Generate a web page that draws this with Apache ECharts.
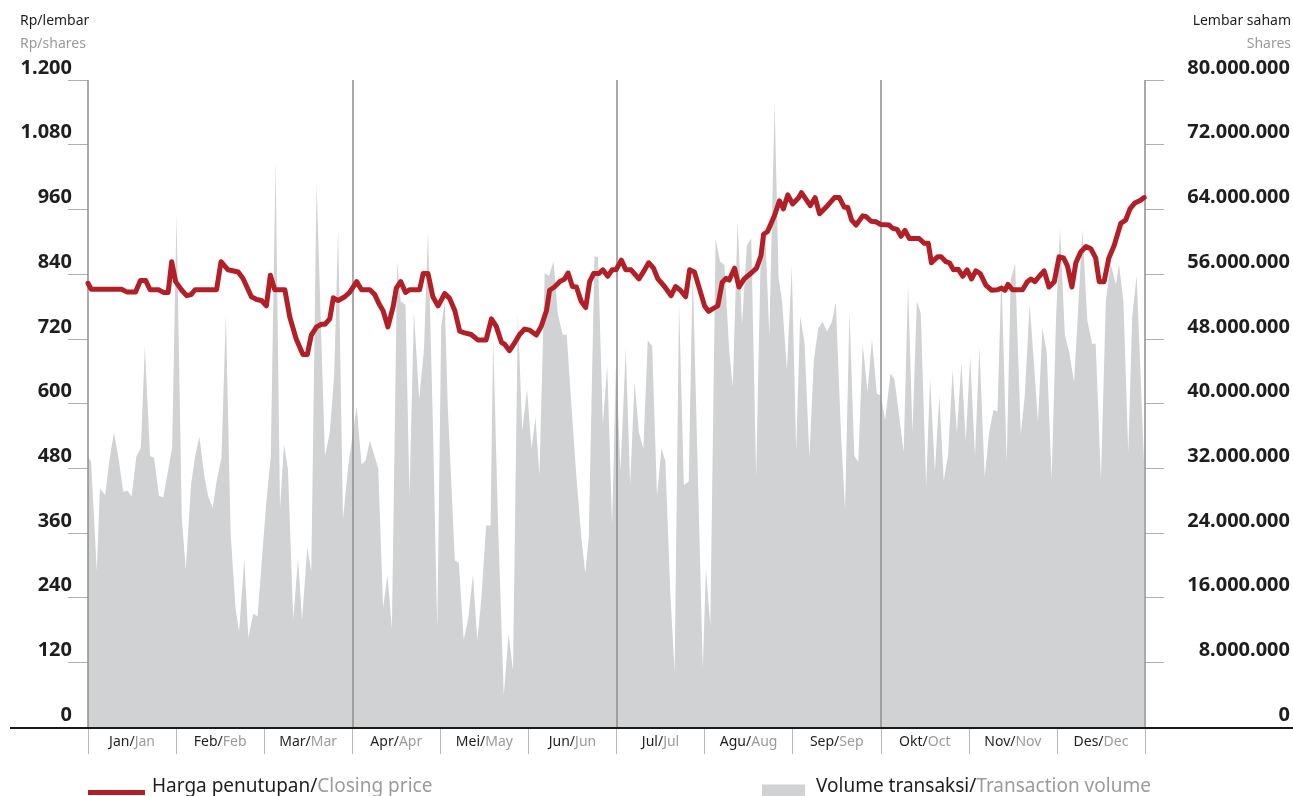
<!DOCTYPE html>
<html>
<head>
<meta charset="utf-8">
<title>Harga penutupan dan volume transaksi</title>
<script src="https://cdn.jsdelivr.net/npm/echarts@6/dist/echarts.min.js"></script>
<style>
  html, body { margin: 0; padding: 0; background: #fff; }
  #chart { width: 1293px; height: 796px; }
</style>
</head>
<body>
<div id="chart"></div>
<script>
// bulan (label sumbu x), satu bulan = 20 hari bursa
var months = [
  ["Jan", "Jan"], ["Feb", "Feb"], ["Mar", "Mar"], ["Apr", "Apr"],
  ["Mei", "May"], ["Jun", "Jun"], ["Jul", "Jul"], ["Agu", "Aug"],
  ["Sep", "Sep"], ["Okt", "Oct"], ["Nov", "Nov"], ["Des", "Dec"]
];

// harga penutupan (Rp/lembar)
var priceDay = [0, 0.7, 7.6, 8.8, 10.8, 11.9, 13.1, 14.1, 16.0, 17.1, 18.2, 19.0, 19.9, 21.3, 22.4, 23.4, 24.3, 29.2, 30.2, 31.8,
  34.1, 35.2, 37.1, 38.3, 39.4, 40.5, 41.4, 42.4, 44.7, 45.8, 47.3, 48.8, 49.8, 50.7, 51.9, 53.0, 53.8, 54.9, 55.7, 56.8,
  58.3, 59.4, 61.0, 62.1, 64.0, 65.1, 66.2, 67.0, 68.1, 69.3, 70.0, 71.0, 72.1, 73.0, 75.3, 76.1, 77.2, 78.3, 79.5, 81.0,
  82.1, 83.3, 84.4, 85.5, 87.0, 88.5, 90.4, 91.6, 92.7, 93.9, 94.6, 95.7, 96.9, 98.0, 99.1, 100.3, 101.8, 102.9, 104.1, 104.8,
  105.9, 107.1, 108.2, 109.0, 110.0, 110.9, 112.0, 113.0, 113.9, 114.8, 116.0, 116.9, 118.0, 119.0, 119.9, 121.1, 122.1, 123.3, 125.1, 126.1,
  127.3, 128.4, 129.4, 130.9, 132.4, 133.4, 134.5, 135.7, 136.6, 137.7, 138.8, 140.0, 140.9, 141.9, 143.0, 144.0, 144.9, 145.6, 146.8, 147.8,
  149.0, 150.6, 151.8, 152.8, 153.4, 154.3, 155.9, 157.0, 157.9, 158.9, 160.0, 161.4, 162.0, 164.0, 165.1, 166.1, 167.9, 169.5, 170.6, 171.7,
  172.5, 173.4, 174.4, 175.9, 176.6, 177.8, 178.9, 180.0, 181.9, 182.7, 183.7, 184.6, 185.5, 186.5, 188.7, 189.9, 190.8, 191.5, 192.9, 193.7,
  194.8, 195.6, 196.5, 197.6, 198.6, 199.6, 200.6, 201.6, 202.6, 203.9, 205.2, 206.5, 207.4, 208.2, 208.9, 209.9, 212.2, 213.3, 214.1, 215.0,
  216.0, 217.1, 218.2, 219.4, 220.5, 221.5, 222.4, 223.4, 224.3, 225.4, 226.6, 227.7, 228.8, 229.6, 230.7, 231.8, 233.0, 234.5, 235.6, 236.6,
  237.7, 239.0, 239.8];
var priceVal = [823, 812, 812, 807, 807, 828, 828, 811, 811, 806, 806, 863, 826, 810, 800, 802, 811, 811, 863, 848,
  844, 832, 798, 793, 791, 781, 838, 811, 811, 761, 719, 691, 691, 727, 742, 747, 747, 757, 796, 791,
  798, 806, 826, 811, 811, 802, 783, 772, 742, 780, 814, 826, 806, 811, 811, 841, 841, 798, 781, 804,
  795, 772, 734, 731, 728, 718, 718, 757, 743, 713, 710, 698, 713, 728, 738, 736, 727, 743, 772, 810,
  816, 826, 831, 842, 817, 816, 789, 778, 826, 841, 841, 848, 836, 848, 848, 866, 848, 848, 831, 844,
  861, 851, 831, 817, 800, 817, 810, 798, 848, 844, 814, 781, 771, 776, 781, 825, 832, 829, 851, 816,
  831, 842, 851, 874, 914, 919, 949, 976, 961, 987, 970, 982, 991, 967, 982, 952, 967, 982, 982, 964,
  964, 940, 931, 948, 947, 938, 937, 932, 931, 925, 923, 910, 921, 906, 906, 897, 897, 861, 872, 872,
  863, 861, 848, 849, 836, 848, 831, 846, 841, 819, 810, 811, 814, 810, 821, 811, 811, 826, 831, 826,
  836, 846, 816, 826, 872, 870, 855, 816, 861, 881, 891, 887, 870, 826, 826, 870, 893, 934, 940, 961,
  972, 977, 982];

// volume transaksi (juta lembar)
var volDay = [0, 0.7, 2.0, 2.7, 3.9, 4.8, 5.9, 6.9, 8.0, 9.0, 9.9, 11.0, 12.0, 12.9, 14.1, 15.0, 16.1, 17.1, 19.1, 20.1,
  21.3, 22.2, 23.4, 24.3, 25.3, 26.4, 27.3, 28.3, 29.2, 30.3, 31.3, 32.4, 33.5, 34.3, 35.5, 36.4, 37.5, 38.5, 40.5, 41.5,
  42.6, 43.6, 44.5, 45.4, 46.6, 47.7, 48.6, 49.8, 50.7, 51.9, 53.8, 54.9, 55.9, 56.8, 57.9, 59.1, 60.2, 61.0, 62.1, 63.0,
  64.0, 65.9, 67.0, 68.0, 69.0, 70.2, 71.0, 72.1, 73.0, 74.0, 75.2, 76.3, 77.2, 78.2, 79.3, 80.2, 81.0, 81.7, 83.3, 84.2,
  85.3, 86.3, 87.4, 88.4, 89.3, 90.4, 91.4, 92.0, 93.1, 94.4, 95.5, 96.5, 97.6, 98.6, 99.7, 100.7, 101.6, 102.5, 103.7, 104.7,
  105.7, 106.7, 107.8, 108.7, 109.7, 110.9, 112.0, 112.9, 113.7, 115.0, 115.8, 116.9, 117.9, 119.0, 119.9, 120.9, 122.1, 123.1, 124.1, 125.1,
  126.1, 127.1, 128.1, 129.2, 130.2, 131.1, 132.2, 133.2, 134.2, 135.3, 136.4, 137.3, 138.5, 139.6, 140.3, 141.3, 142.5, 143.5, 144.5, 145.6,
  146.4, 147.5, 148.5, 149.6, 150.6, 151.7, 152.8, 153.8, 154.7, 155.9, 156.8, 157.6, 158.7, 159.8, 160.8, 161.7, 162.7, 163.8, 164.8, 165.8,
  166.8, 167.8, 168.9, 169.8, 171.0, 171.9, 172.9, 174.0, 174.9, 175.9, 177.0, 178.0, 179.1, 180.0, 181.0, 182.2, 183.1, 184.2, 185.2, 186.2,
  187.2, 188.2, 189.1, 190.3, 191.2, 192.3, 193.3, 194.3, 195.3, 196.3, 197.3, 198.3, 199.3, 200.3, 201.4, 202.4, 203.6, 204.6, 205.6, 206.5,
  207.4, 208.6, 209.5, 210.5, 211.8, 212.7, 213.8, 214.8, 215.7, 216.7, 217.7, 218.8, 219.8, 220.7, 221.8, 222.8, 223.9, 224.7, 225.8, 226.9,
  228.0, 228.8, 230.0, 231.1, 232.2, 233.4, 234.1, 235.1, 236.2, 237.1, 238.1, 239.0, 239.8];
var volVal = [33.4, 32.8, 19.3, 29.5, 28.7, 32.8, 36.4, 33.4, 29.1, 29.2, 28.5, 33.5, 34.5, 47.0, 33.5, 33.3, 28.6, 28.4, 34.5, 63.4,
  25.9, 19.4, 30.0, 33.4, 35.9, 31.1, 28.5, 27.1, 30.4, 33.3, 51.0, 23.8, 14.7, 11.8, 20.8, 11.0, 14.0, 13.7, 27.9, 33.4,
  69.9, 27.0, 35.0, 31.9, 13.3, 20.8, 13.2, 22.2, 19.2, 67.2, 33.5, 36.4, 43.5, 61.6, 25.7, 32.4, 36.4, 39.7, 32.5, 32.9,
  35.4, 32.0, 14.7, 18.8, 12.1, 57.6, 52.6, 52.2, 28.6, 51.3, 40.5, 46.8, 61.4, 40.0, 12.2, 49.5, 52.6, 39.5, 20.6, 20.3,
  10.8, 13.3, 18.8, 10.7, 15.8, 24.9, 24.9, 48.0, 25.3, 3.9, 11.5, 7.0, 51.0, 36.7, 41.7, 34.4, 38.3, 31.1, 56.1, 55.8,
  57.6, 51.0, 48.5, 48.5, 40.2, 30.9, 23.6, 19.0, 23.4, 58.2, 58.1, 37.4, 44.7, 24.9, 45.3, 31.6, 46.8, 29.9, 42.7, 36.4,
  34.4, 47.8, 47.1, 28.6, 34.4, 32.9, 16.8, 6.7, 52.5, 29.9, 30.4, 56.6, 30.6, 7.2, 19.6, 12.5, 60.4, 57.6, 57.1, 46.5,
  42.0, 62.6, 49.8, 59.6, 60.4, 30.9, 59.9, 60.9, 48.3, 77.2, 55.6, 52.6, 44.1, 57.0, 34.2, 50.8, 47.5, 33.4, 45.3, 49.3,
  50.1, 48.9, 50.1, 52.5, 35.9, 26.9, 51.3, 33.5, 32.8, 47.3, 41.4, 48.0, 41.2, 41.0, 38.0, 43.7, 43.0, 38.4, 34.0, 54.7,
  36.4, 52.7, 51.1, 29.8, 43.1, 31.6, 41.0, 30.5, 33.7, 44.1, 36.4, 45.1, 35.4, 45.8, 33.5, 47.0, 30.9, 36.4, 39.2, 39.0,
  55.8, 32.7, 55.3, 57.3, 36.2, 41.0, 52.3, 44.9, 37.7, 49.3, 46.3, 30.6, 50.5, 61.7, 48.5, 46.3, 42.6, 50.5, 61.5, 50.3,
  47.4, 47.4, 30.6, 52.6, 57.3, 54.7, 57.2, 52.6, 33.9, 50.8, 55.8, 43.5, 32.4];

// batas kuartal
var quarterDays = [0, 60, 120, 180, 240];

var FONT = "Noto Sans";
var DARK = "#1e1e1e";
var GREY = "#9b9b9b";

function dotted(v) {
  return String(Math.round(v)).replace(/\B(?=(\d{3})+(?!\d))/g, ".");
}

var chart = echarts.init(document.getElementById("chart"));

var option = {
  animation: false,
  textStyle: { fontFamily: FONT },
  grid: { left: 88, right: 147, top: 80, bottom: 69 },
  legend: [
    {
      left: 88,
      top: 777,
      padding: 0,
      icon: "rect",
      itemWidth: 57,
      itemHeight: 5,
      data: ["Harga penutupan"],
      formatter: "{a|Harga penutupan/}{b|Closing price}",
      textStyle: {
        padding: [0, 0, 12, 2],
        rich: {
          a: { fontFamily: FONT, fontSize: 19, color: DARK },
          b: { fontFamily: FONT, fontSize: 19, color: GREY }
        }
      }
    },
    {
      left: 762,
      top: 777,
      padding: 0,
      icon: "rect",
      itemWidth: 43,
      itemHeight: 12,
      data: ["Volume transaksi"],
      formatter: "{a|Volume transaksi/}{b|Transaction volume}",
      textStyle: {
        padding: [0, 0, 8, 6],
        rich: {
          a: { fontFamily: FONT, fontSize: 19, color: DARK },
          b: { fontFamily: FONT, fontSize: 19, color: GREY }
        }
      }
    }
  ],
  xAxis: [
    {
      type: "value",
      min: 0,
      max: 240,
      interval: 60,
      axisLine: { show: false },
      axisTick: { show: false },
      axisLabel: { show: false },
      splitLine: { show: false }
    },
    {
      type: "category",
      position: "bottom",
      data: months.map(function (m) { return m[0]; }),
      boundaryGap: true,
      axisLine: { show: false },
      axisTick: { show: true, interval: 0, length: 27, lineStyle: { color: "#b8b8b8", width: 1 } },
      axisLabel: {
        interval: 0,
        margin: 8,
        formatter: function (v, i) {
          return "{a|" + months[i][0] + "/}{b|" + months[i][1] + "}";
        },
        rich: {
          a: { fontFamily: FONT, fontSize: 14, color: DARK },
          b: { fontFamily: FONT, fontSize: 14, color: GREY }
        }
      }
    }
  ],
  yAxis: [
    {
      type: "value",
      min: 0,
      max: 1200,
      interval: 120,
      axisLine: { show: false },
      axisTick: { show: true, length: 20, lineStyle: { color: "#b0b0b0" } },
      splitLine: { show: false },
      axisLabel: {
        margin: 16,
        verticalAlign: "bottom",
        lineHeight: 24,
        fontFamily: FONT,
        fontSize: 20,
        fontWeight: "bold",
        color: DARK,
        formatter: dotted
      }
    },
    {
      type: "value",
      min: 0,
      max: 80,
      interval: 8,
      position: "right",
      axisLine: { show: false },
      axisTick: { show: true, length: 19, lineStyle: { color: "#b0b0b0" } },
      splitLine: { show: false },
      axisLabel: {
        margin: 145,
        align: "right",
        verticalAlign: "bottom",
        lineHeight: 24,
        fontFamily: FONT,
        fontSize: 20,
        fontWeight: "bold",
        color: DARK,
        formatter: function (v) { return dotted(v * 1000000); }
      }
    }
  ],
  series: [
    {
      name: "Volume transaksi",
      type: "line",
      xAxisIndex: 0,
      yAxisIndex: 1,
      symbol: "none",
      color: "#d1d2d4",
      lineStyle: { width: 0 },
      areaStyle: { color: "#d1d2d4", opacity: 1 },
      data: volDay.map(function (d, i) { return [d, volVal[i]]; }),
      markLine: {
        silent: true,
        symbol: "none",
        label: { show: false },
        lineStyle: { color: "#8e8e8e", width: 1.5, type: "solid" },
        data: quarterDays.map(function (d) { return { xAxis: d }; })
      }
    },
    {
      name: "Harga penutupan",
      type: "line",
      xAxisIndex: 0,
      yAxisIndex: 0,
      z: 5,
      symbol: "none",
      color: "#b31f26",
      lineStyle: { width: 5, cap: "round", join: "round" },
      data: priceDay.map(function (d, i) { return [d, priceVal[i]]; })
    }
  ],
  graphic: [
    // garis sumbu bawah, lebih panjang dari area plot
    {
      type: "line",
      z: 100,
      shape: { x1: 10, y1: 728, x2: 1293, y2: 728 },
      style: { stroke: "#1a1a1a", lineWidth: 2 }
    },
    { type: "text", left: 20, top: 14, style: { text: "Rp/lembar", fontFamily: FONT, fontSize: 14, fill: DARK } },
    { type: "text", left: 20, top: 37, style: { text: "Rp/shares", fontFamily: FONT, fontSize: 14, fill: GREY } },
    { type: "text", right: 2, top: 14, style: { text: "Lembar saham", fontFamily: FONT, fontSize: 14, fill: DARK } },
    { type: "text", right: 2, top: 37, style: { text: "Shares", fontFamily: FONT, fontSize: 14, fill: GREY } }
  ]
};

chart.setOption(option);
</script>
</body>
</html>
